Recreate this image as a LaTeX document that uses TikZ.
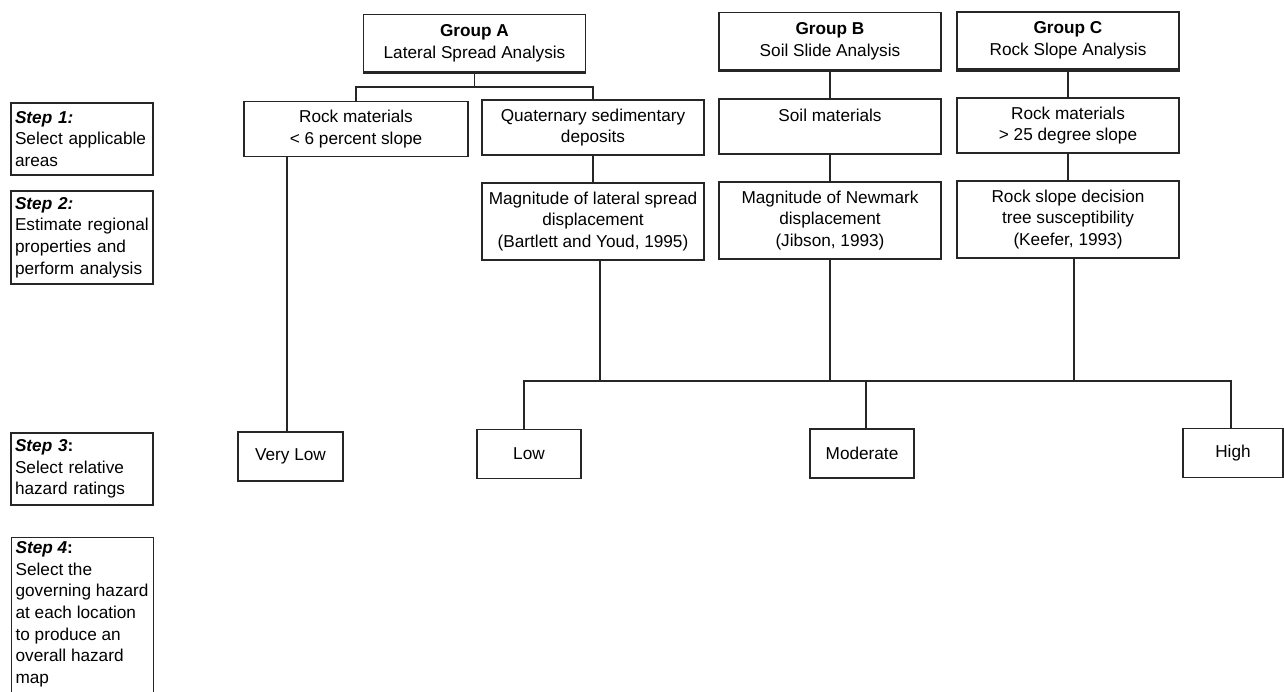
\documentclass[tikz,border=0pt]{standalone}
\usepackage{fontspec}
\setmainfont{Liberation Sans}
\usetikzlibrary{calc}
\begin{document}
\begin{tikzpicture}[x=0.5pt,y=-0.5pt,
  every node/.style={font=\fontsize{8.6pt}{10.8pt}\selectfont},
  box/.style={draw=black!85, line width=0.6pt, align=center, inner sep=1pt},
  line/.style={draw=black!85, line width=0.6pt},
  grp/.style={box, minimum width=111pt, minimum height=28.5pt},
  sel/.style={box, minimum width=111pt, minimum height=27.5pt},
  mag/.style={box, minimum width=111pt, minimum height=38.5pt},
  rate/.style={box, minimum width=52pt, minimum height=24.5pt},
  stepbox/.style={draw=black!85, line width=0.6pt, align=left, text width=67pt, inner sep=2pt, minimum height=36pt},
  thickbottom/.style={draw=black!85, line width=1.5pt}
]
\useasboundingbox (0,0) rectangle (1284,691);
\fill[white] (0,0) rectangle (1284,691);

% step boxes
\node[stepbox, minimum height=36pt] (s1) at (82,139) {\textbf{\textit{Step 1:}}\\Select applicable\\areas};
\node[stepbox, minimum height=46.5pt] (s2) at (82,237.5) {\textbf{\textit{Step 2:}}\\Estimate regional\\properties and\\perform analysis};
\node[stepbox, minimum height=36pt] (s3) at (82,469) {\textbf{\textit{Step 3}}\textbf{:}\\Select relative\\hazard ratings};
\node[draw=black!85, line width=0.6pt, inner sep=2pt, anchor=north west] (s4) at (11,537)
  {\parbox[c][92pt][t]{67pt}{\raggedright\textbf{\textit{Step 4}}\textbf{:}\\Select the\\governing hazard\\at each location\\to produce an\\overall hazard\\map}};

% group boxes
\node[grp] (gA) at (474.5,43) {\textbf{Group A}\\Lateral Spread Analysis};
\node[grp] (gB) at (830,41) {\textbf{Group B}\\Soil Slide Analysis};
\node[grp] (gC) at (1068,40.5) {\textbf{Group C}\\Rock Slope Analysis};
\foreach \g in {gA,gB,gC}{
  \draw[thickbottom] ([yshift=-0.2pt]\g.south west) -- ([yshift=-0.2pt]\g.south east);
}

% selection boxes
\node[sel, minimum width=112pt] (rockA) at (356,129) {Rock materials\\< 6 percent slope};
\node[sel] (quat) at (593,127.5) {Quaternary sedimentary\\deposits};
\node[sel] (soil) at (830,126.5) {Soil materials\\\mbox{}};
\node[sel] (rockC) at (1068,125.5) {Rock materials\\> 25 degree slope};

% analysis boxes
\node[mag] (magA) at (593,221.5) {Magnitude of lateral spread\\displacement\\(Bartlett and Youd, 1995)};
\node[mag] (magB) at (830,220.5) {Magnitude of Newmark\\displacement\\(Jibson, 1993)};
\node[mag] (magC) at (1068,219.5) {Rock slope decision\\tree susceptibility\\(Keefer, 1993)};

% rating boxes
\node[rate, minimum width=52.5pt] (vlow) at (290.5,456.5) {Very Low};
\node[rate] (low) at (529,454) {Low};
\node[rate] (moderate) at (862,453.5) {Moderate};
\node[rate, minimum width=50pt] (high) at (1233,453) {High};

% connectors
\coordinate (jA) at (474.5,87);
\draw[line] (gA.south) -- (jA);
\draw[line] (rockA.north) |- (jA) -| (quat.north);
\draw[line] (gB.south) -- (soil.north);
\draw[line] (gC.south) -- (rockC.north);
\draw[line] (quat.south) -- (magA.north);
\draw[line] (soil.south) -- (magB.north);
\draw[line] (rockC.south) -- (magC.north);
\draw[line] ([xshift=-1.75pt]vlow.north |- rockA.south) -- ([xshift=-1.75pt]vlow.north);

\coordinate (busL) at (524,381);
\coordinate (busR) at (1231,381);
\draw[line] (low.north -| busL) -- (busL) -- (busR) -- (high.north -| busR);
\coordinate (modT) at ($(moderate.north)+(4,0)$);
\draw[line] (modT) -- (modT |- busL);
\coordinate (mAs) at ($(magA.south)+(7,0)$);
\coordinate (mCs) at ($(magC.south)+(6,0)$);
\draw[line] (mAs) -- (mAs |- busL);
\draw[line] (magB.south) -- (magB.south |- busL);
\draw[line] (mCs) -- (mCs |- busL);
\end{tikzpicture}
\end{document}
